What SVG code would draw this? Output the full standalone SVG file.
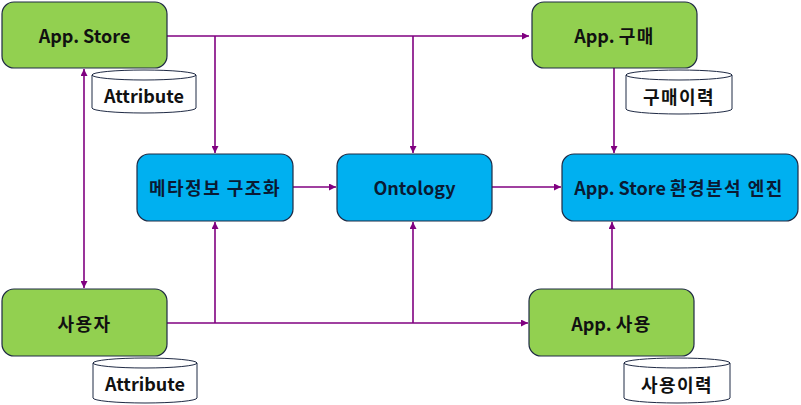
<svg xmlns="http://www.w3.org/2000/svg" width="801" height="405" viewBox="0 0 801 405">
<style>
.g{fill:#92D050;stroke:#1F2A44;stroke-width:1.2}
.b{fill:#00B0F0;stroke:#1F2A44;stroke-width:1.2}
.cy{fill:#FFFFFF;stroke:#1F2A44;stroke-width:1}
.t{font-family:"Noto Sans CJK KR","Noto Sans",sans-serif;font-weight:bold;font-size:18px;text-anchor:middle;dominant-baseline:central;fill:#111111}
.k{letter-spacing:1.5px}
.tb{fill:#0A1A33}
.c{stroke:#800080;stroke-width:1.6;fill:none}
</style>
<defs>
<marker id="ah" viewBox="0 0 10 10" refX="10" refY="5" markerWidth="7" markerHeight="7" markerUnits="userSpaceOnUse" orient="auto-start-reverse">
<path d="M0,0 L10,5 L0,10 z" fill="#800080"/>
</marker>
</defs>
<rect width="801" height="405" fill="#FFFFFF"/>
<g id="connectors">
<path class="c" d="M84,69 V288" marker-start="url(#ah)" marker-end="url(#ah)"/>
<path class="c" d="M167,36 H529" marker-end="url(#ah)"/>
<path class="c" d="M215,36 V153" marker-end="url(#ah)"/>
<path class="c" d="M413,36 V153" marker-end="url(#ah)"/>
<path class="c" d="M614,68 V153" marker-end="url(#ah)"/>
<path class="c" d="M293,187 H336" marker-end="url(#ah)"/>
<path class="c" d="M492,187 H561" marker-end="url(#ah)"/>
<path class="c" d="M167,323 H528" marker-end="url(#ah)"/>
<path class="c" d="M215,323 V222" marker-end="url(#ah)"/>
<path class="c" d="M413,323 V222" marker-end="url(#ah)"/>
<path class="c" d="M612,289 V222" marker-end="url(#ah)"/>
</g>
<g id="appstore">
<rect class="g" x="2" y="2" width="165" height="66" rx="12"/>
<text class="t" x="84.5" y="35">App. Store</text>
</g>
<g id="attr1">
<path class="cy" d="M92,75 A52,5 0 0,1 196,75 V108 A52,5 0 0,1 92,108 Z"/>
<path class="cy" d="M92,75 A52,5 0 0,0 196,75" fill="none"/>
<text class="t" x="144" y="95">Attribute</text>
</g>
<g id="appbuy">
<rect class="g" x="532" y="2" width="165" height="66" rx="12"/>
<text class="t" x="614.5" y="35">App. <tspan class="k">구매</tspan></text>
</g>
<g id="buyhist">
<path class="cy" d="M626,75 A53,5 0 0,1 732,75 V109 A53,5 0 0,1 626,109 Z"/>
<path class="cy" d="M626,75 A53,5 0 0,0 732,75" fill="none"/>
<text class="t k" x="679" y="96">구매이력</text>
</g>
<g id="meta">
<rect class="b" x="137" y="154" width="156" height="67" rx="12"/>
<text class="t tb k" x="215" y="187">메타정보 구조화</text>
</g>
<g id="ontology">
<rect class="b" x="337" y="154" width="155" height="67" rx="12"/>
<text class="t tb" x="414.5" y="187">Ontology</text>
</g>
<g id="engine">
<rect class="b" x="562" y="154" width="236" height="67" rx="12"/>
<text class="t tb" x="679" y="187">App. Store <tspan class="k">환경분석 엔진</tspan></text>
</g>
<g id="user">
<rect class="g" x="2" y="289" width="165" height="67" rx="12"/>
<text class="t k" x="84.5" y="323">사용자</text>
</g>
<g id="attr2">
<path class="cy" d="M93,363 A52,5 0 0,1 197,363 V398 A52,5 0 0,1 93,398 Z"/>
<path class="cy" d="M93,363 A52,5 0 0,0 197,363" fill="none"/>
<text class="t" x="145" y="383">Attribute</text>
</g>
<g id="appuse">
<rect class="g" x="529" y="289" width="165" height="67" rx="12"/>
<text class="t" x="611.5" y="323">App. <tspan class="k">사용</tspan></text>
</g>
<g id="usehist">
<path class="cy" d="M624,363 A53,5 0 0,1 730,363 V398 A53,5 0 0,1 624,398 Z"/>
<path class="cy" d="M624,363 A53,5 0 0,0 730,363" fill="none"/>
<text class="t k" x="677" y="384">사용이력</text>
</g>
</svg>
